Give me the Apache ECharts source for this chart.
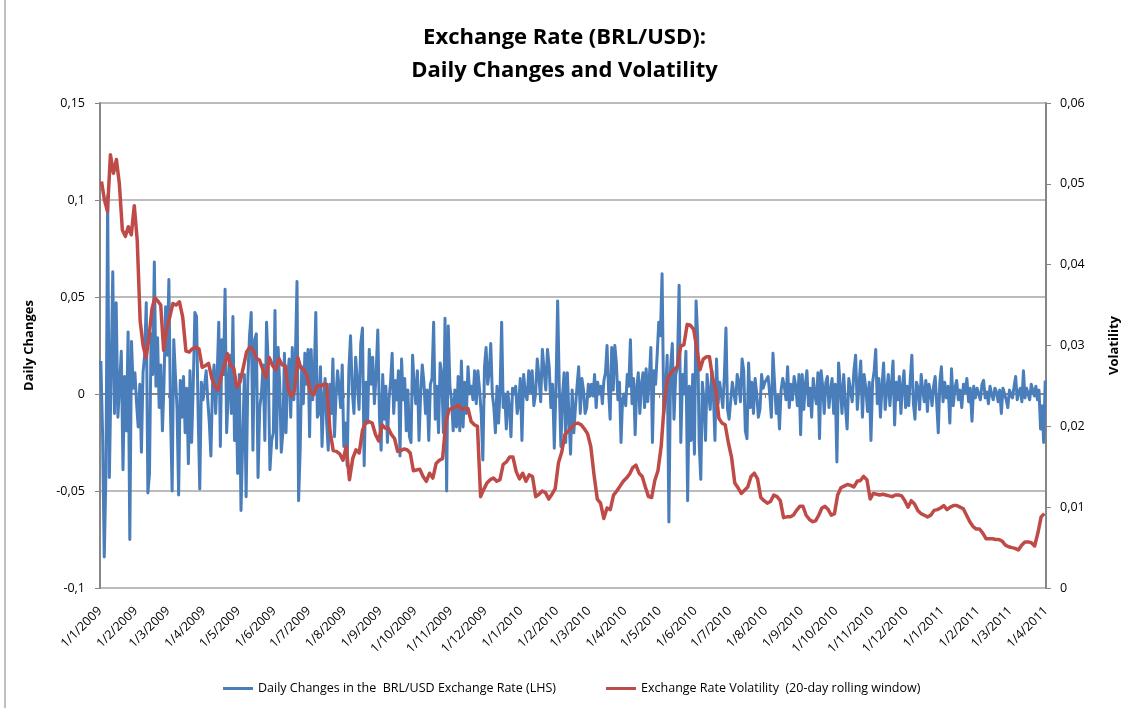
<!DOCTYPE html>
<html><head><meta charset="utf-8">
<script src="https://cdn.jsdelivr.net/npm/echarts@6/dist/echarts.min.js"></script>
<style>html,body{margin:0;padding:0;background:#fff}#c{width:1129px;height:708px}</style>
</head><body><div id="c"></div>
<script>
// Month-start tick labels (d/m/yyyy)
const tickLabels = ['1/1/2009','1/2/2009','1/3/2009','1/4/2009','1/5/2009','1/6/2009','1/7/2009','1/8/2009','1/9/2009','1/10/2009','1/11/2009','1/12/2009',
  '1/1/2010','1/2/2010','1/3/2010','1/4/2010','1/5/2010','1/6/2010','1/7/2010','1/8/2010','1/9/2010','1/10/2010','1/11/2010','1/12/2010',
  '1/1/2011','1/2/2011','1/3/2011','1/4/2011'];

// Daily changes in BRL/USD (LHS), one inner array per month
const dailyChanges2009 = [
  [0.017,-0.02,-0.084,-0.04,0.102,-0.043,0.01,0.063,-0.01,0.047,-0.012,0.005,0.022,-0.039,0.009,-0.019,0.032,-0.075,0.027,0.003,0.011],
  [-0.005,-0.017,0.005,-0.03,0.011,0.02,0.047,-0.051,-0.041,0.031,0.01,0.068,0.004,0.029,-0.007,0.015,-0.019,0.006,0.045,0.02],
  [0.059,-0.01,-0.05,0.028,0.01,-0.007,-0.052,0.007,-0.012,0.009,-0.02,0.003,-0.036,0.012,-0.025,0.005,0.042,0.04,-0.01,-0.049,0.006,-0.003],
  [-0.003,0.012,-0.003,-0.015,-0.032,0.004,0.015,-0.01,0.01,0.037,-0.027,0.028,0.01,0.054,-0.02,0.0,0.02,-0.01,0.04,-0.024,0.005,-0.041],
  [0.01,-0.06,-0.024,0.01,-0.053,0.007,0.03,0.042,-0.029,0.028,0.031,-0.043,-0.007,0.0,0.015,-0.024,0.037,0.015,-0.039,-0.024,-0.02],
  [0.043,-0.028,0.024,0.005,-0.03,-0.02,0.021,-0.02,0.008,0.018,-0.012,0.024,-0.003,0.02,0.058,-0.055,-0.029,0.014,-0.005,0.021,0.005,0.023],
  [-0.022,0.023,-0.003,0.01,0.042,-0.012,-0.01,0.014,-0.027,-0.003,0.008,-0.015,-0.029,0.005,-0.01,0.018,-0.022,-0.001,0.012,0.003,-0.007,0.015,-0.027],
  [-0.015,-0.037,0.012,0.03,0.002,-0.01,0.019,0.006,-0.008,0.026,0.034,-0.037,0.006,-0.015,0.023,0.005,0.019,-0.005,0.01,0.033,-0.012],
  [-0.029,0.01,-0.013,0.004,-0.025,-0.003,0.006,0.021,-0.01,0.007,-0.003,0.012,-0.032,0.018,-0.003,0.008,-0.019,0.002,-0.022,-0.025,0.02,0.005],
  [-0.005,0.012,-0.024,0.0,0.015,0.006,-0.01,0.002,-0.024,0.005,0.008,0.037,-0.013,0.004,-0.02,0.016,0.01,-0.02,0.039,-0.05,0.035,0.004],
  [-0.003,-0.019,0.002,-0.017,0.009,-0.019,0.017,-0.017,0.006,-0.01,0.014,0.0,0.004,-0.003,0.012,-0.005,0.012,0.002,-0.01,-0.034,0.014],
  [0.024,0.005,0.011,0.026,0.0,-0.007,-0.02,0.004,-0.015,0.002,0.037,-0.007,0.0,-0.018,0.001,-0.007,-0.022,0.003,0.0,0.004,-0.01,-0.005,0.008]
];
const dailyChanges2010 = [
  [-0.024,0.01,0.0,-0.003,0.012,0.001,0.012,-0.006,0.0,0.018,0.009,-0.004,0.023,0.012,0.002,0.023,0.014,-0.007,0.005,-0.028,0.004],
  [0.048,0.004,-0.027,-0.001,0.011,-0.025,0.011,-0.012,-0.031,0.002,-0.02,-0.007,0.004,0.014,-0.01,0.008,0.002,-0.01,-0.007,0.005],
  [-0.001,0.005,-0.001,0.01,-0.007,0.006,0.0,0.004,-0.005,0.007,0.011,0.025,0.002,-0.013,0.024,0.002,0.025,0.016,-0.003,0.006,-0.025,-0.003,0.0],
  [-0.006,0.01,0.004,0.028,-0.005,0.008,-0.021,0.003,0.011,-0.01,0.005,0.011,-0.007,0.013,-0.004,0.008,0.024,-0.025,0.012,0.005,0.02,0.037],
  [0.03,0.062,-0.01,0.0,0.02,-0.066,0.014,0.026,-0.013,0.01,0.014,0.056,-0.025,0.01,0.0,0.022,-0.055,0.004,-0.024,0.01,-0.031],
  [0.048,0.03,-0.026,-0.044,0.006,-0.003,-0.024,0.01,0.0,-0.008,0.012,0.0,-0.024,0.018,-0.005,0.006,0.0,-0.007,0.01,0.034,-0.008,-0.013],
  [-0.013,0.006,0.0,-0.005,0.01,0.006,-0.004,0.018,0.012,-0.019,-0.023,0.016,-0.007,0.006,-0.01,0.008,0.0,-0.012,-0.008,0.01,0.003,0.006],
  [0.006,0.009,0.0,-0.012,0.021,0.005,-0.01,-0.001,-0.018,0.002,0.008,0.004,-0.003,0.014,-0.007,0.005,-0.003,0.009,0.004,-0.006,0.01,-0.021],
  [0.01,-0.008,0.005,0.012,-0.006,0.003,-0.012,0.008,0.0,-0.005,0.011,-0.023,0.012,0.004,-0.01,0.006,0.009,-0.007,0.002,0.008,-0.01,0.005],
  [-0.035,0.016,0.004,-0.01,0.01,-0.006,-0.018,0.008,0.002,-0.004,0.012,0.02,-0.008,0.005,0.017,-0.012,0.01,0.003,-0.009,0.006,-0.024],
  [0.006,0.012,0.023,-0.005,0.008,-0.012,0.004,0.016,-0.008,0.002,0.01,-0.006,0.005,0.017,-0.016,0.006,-0.003,0.009,-0.01,0.004,0.012,-0.007],
  [0.004,-0.006,0.008,0.02,-0.005,-0.013,0.006,0.003,-0.008,0.01,0.002,-0.004,0.007,-0.009,0.005,0.001,-0.006,0.004,0.009,-0.005,-0.02,0.006,0.014]
];
const dailyChanges2011 = [
  [-0.004,0.006,-0.002,0.004,-0.015,0.013,-0.006,0.003,0.007,-0.003,0.002,-0.007,0.005,0.001,0.008,-0.004,0.003,-0.014,0.004,-0.002,0.003],
  [0.002,-0.003,0.005,0.007,-0.002,0.001,-0.005,0.004,0.0,-0.003,0.003,0.001,-0.004,0.002,-0.01,0.003,0.0,-0.003,-0.007,0.002],
  [0.002,-0.002,0.004,0.009,-0.003,0.001,0.003,-0.004,0.012,-0.002,0.003,0.0,-0.003,0.005,0.002,-0.001,0.004,-0.003,0.002,-0.018,-0.006,-0.025,0.007]
];

// Exchange rate volatility, 20-day rolling window (RHS), one inner array per month
const volatility2009 = [
  [0.0503,0.048,0.0466,0.0536,0.0513,0.053,0.05,0.0443,0.0435,0.0447,0.0437,0.0473],
  [0.043,0.033,0.030,0.0285,0.031,0.0345,0.0359,0.0355,0.035,0.0294,0.032],
  [0.0335,0.0352,0.035,0.0354,0.0335,0.0293,0.0292,0.0296,0.0298,0.0296,0.0273],
  [0.0275,0.0278,0.026,0.0249,0.0245,0.0262,0.0275,0.029,0.0275,0.0272,0.0248],
  [0.0255,0.0273,0.0292,0.0298,0.0295,0.0284,0.0282,0.027,0.026,0.0285,0.0275],
  [0.027,0.0284,0.0276,0.0275,0.0245,0.0237,0.0245,0.0285,0.0272,0.027,0.0262],
  [0.0242,0.0239,0.0251,0.0249,0.0252,0.0252,0.0195,0.017,0.0169,0.0166,0.0158],
  [0.0175,0.0134,0.016,0.0171,0.0167,0.0195,0.0205,0.0206,0.0204,0.019,0.0182],
  [0.0202,0.0198,0.0198,0.019,0.0185,0.0169,0.017,0.0172,0.0171,0.0167,0.0145],
  [0.0146,0.0147,0.0138,0.0132,0.0142,0.0136,0.0154,0.0158,0.016,0.0205,0.0221],
  [0.0222,0.0224,0.0226,0.0221,0.0222,0.0222,0.0206,0.0202,0.02,0.0113,0.0122],
  [0.013,0.0134,0.0136,0.0132,0.0134,0.0153,0.0156,0.0162,0.0162,0.0144,0.0135]
];
const volatility2010 = [
  [0.0142,0.0132,0.014,0.0138,0.0113,0.0116,0.012,0.0118,0.011,0.0116,0.0123],
  [0.0155,0.0168,0.019,0.0194,0.0198,0.0203,0.0204,0.0202,0.0197,0.0191],
  [0.0175,0.014,0.011,0.0105,0.0086,0.0099,0.0097,0.0115,0.012,0.0126,0.0132],
  [0.0136,0.0141,0.0149,0.0152,0.0142,0.0138,0.0125,0.0113,0.0112,0.0133,0.0145],
  [0.0175,0.023,0.026,0.0266,0.027,0.0274,0.0299,0.0301,0.0326,0.0325,0.032],
  [0.0296,0.027,0.0283,0.0286,0.0286,0.026,0.0246,0.021,0.0204,0.0202,0.018],
  [0.0162,0.013,0.0124,0.0117,0.0121,0.0125,0.0138,0.0142,0.0135,0.0112,0.0108],
  [0.0105,0.0107,0.0115,0.0113,0.0108,0.0087,0.0088,0.0088,0.009,0.0096,0.0101],
  [0.0101,0.009,0.0085,0.0082,0.0083,0.009,0.0099,0.0101,0.0097,0.009,0.0092],
  [0.0115,0.0124,0.0126,0.0128,0.0127,0.0125,0.0132,0.0133,0.0138,0.0134,0.011],
  [0.0117,0.0116,0.0115,0.0116,0.0115,0.0114,0.0113,0.0115,0.0115,0.0114,0.0108],
  [0.01,0.0108,0.0104,0.0096,0.0092,0.009,0.0088,0.009,0.0096,0.0097,0.0099]
];
const volatility2011 = [
  [0.0102,0.0097,0.01,0.0102,0.0102,0.01,0.0098,0.009,0.0082,0.0076,0.0073],
  [0.0073,0.0068,0.0061,0.0061,0.0061,0.006,0.006,0.0058,0.0053,0.0051],
  [0.005,0.0049,0.0047,0.0053,0.0057,0.0057,0.0056,0.0052,0.0068,0.0088,0.0092]
];

const seriesNames = ['Daily Changes in the  BRL/USD Exchange Rate (LHS)', 'Exchange Rate Volatility  (20-day rolling window)'];

// spread each month's observations across that month's calendar span
function toTimeSeries(byYear) {
  const out = [];
  byYear.forEach(([year, months]) => {
    months.forEach((vals, m) => {
      const s = new Date(year, m, 1).getTime();
      const e = new Date(year, m + 1, 1).getTime();
      vals.forEach((v, j) => out.push([s + (j + 0.5) / vals.length * (e - s), v]));
    });
  });
  return out;
}
const blueData = toTimeSeries([[2009, dailyChanges2009], [2010, dailyChanges2010], [2011, dailyChanges2011]]);
const redData = toTimeSeries([[2009, volatility2009], [2010, volatility2010], [2011, volatility2011]]);

const xMin = new Date(2009, 0, 1).getTime();
const xMax = new Date(2011, 3, 1).getTime();
const FONT = 'Open Sans';
const comma = v => String(+(+v).toFixed(3)).replace('.', ',');
function fmtDate(val) {
  const d = new Date(val);
  return d.getDate() + '/' + (d.getMonth() + 1) + '/' + d.getFullYear();
}

const chart = echarts.init(document.getElementById('c'), null, {renderer: 'canvas'});
chart.setOption({
  animation: false,
  backgroundColor: '#fff',
  title: {
    text: 'Exchange Rate (BRL/USD):\nDaily Changes and Volatility',
    left: 'center', top: 16,
    textStyle: {fontFamily: FONT, fontSize: 22, fontWeight: 'bold', color: '#000', lineHeight: 33}
  },
  legend: {
    bottom: 8, left: 218, icon: 'rect', itemWidth: 30, itemHeight: 3, itemGap: 50,
    textStyle: {fontFamily: FONT, fontSize: 12.5, color: '#000'},
    data: seriesNames
  },
  graphic: [
    {type: 'line', shape: {x1: 5, y1: 0, x2: 5, y2: 708}, style: {stroke: '#c0c0c0', lineWidth: 2}, silent: true}
  ],
  grid: {left: 100, right: 82, top: 103, bottom: 120},
  xAxis: [
    {
      type: 'time', min: xMin, max: xMax, splitNumber: 27,
      minInterval: 28 * 86400000, maxInterval: 31 * 86400000,
      axisLine: {show: true, onZero: true, onZeroAxisIndex: 0, lineStyle: {color: '#868686', width: 2}},
      axisTick: {show: true, length: 4, lineStyle: {color: '#868686'}},
      axisLabel: {show: false},
      splitLine: {show: false}
    },
    {
      type: 'time', min: xMin, max: xMax, splitNumber: 27, position: 'bottom',
      minInterval: 28 * 86400000, maxInterval: 31 * 86400000,
      axisLine: {show: false, onZero: false},
      axisTick: {show: false},
      axisLabel: {show: true, rotate: 45, margin: 21, color: '#000', fontFamily: FONT, fontSize: 12.5,
        formatter: v => fmtDate(v), hideOverlap: false, showMinLabel: true, showMaxLabel: true},
      splitLine: {show: false}
    }
  ],
  yAxis: [
    {
      type: 'value', min: -0.1, max: 0.15, interval: 0.05, position: 'left',
      name: 'Daily Changes', nameLocation: 'middle', nameRotate: 90, nameGap: 64,
      nameTextStyle: {fontFamily: FONT, fontSize: 13, fontWeight: 'bold', color: '#000'},
      axisLine: {show: true, lineStyle: {color: '#868686', width: 2}},
      axisTick: {show: true, length: 5, lineStyle: {color: '#868686'}},
      axisLabel: {formatter: comma, color: '#000', fontFamily: FONT, fontSize: 12.5, margin: 15},
      splitLine: {show: true, lineStyle: {color: '#a6a6a6', width: 1.5}}
    },
    {
      type: 'value', min: 0, max: 0.06, interval: 0.01, position: 'right',
      name: 'Volatility', nameLocation: 'middle', nameRotate: 90, nameGap: 62,
      nameTextStyle: {fontFamily: FONT, fontSize: 13, fontWeight: 'bold', color: '#000'},
      axisLine: {show: true, lineStyle: {color: '#868686', width: 2}},
      axisTick: {show: true, length: 5, lineStyle: {color: '#868686'}},
      axisLabel: {formatter: comma, color: '#000', fontFamily: FONT, fontSize: 12.5, margin: 14},
      splitLine: {show: false}
    }
  ],
  series: [
    {
      name: seriesNames[0], type: 'line', xAxisIndex: 0, yAxisIndex: 0, data: blueData,
      showSymbol: false, symbol: 'none', color: '#4a7ebb',
      lineStyle: {color: '#4a7ebb', width: 3, join: 'round'}, z: 2
    },
    {
      name: seriesNames[1], type: 'line', xAxisIndex: 0, yAxisIndex: 1, data: redData,
      showSymbol: false, symbol: 'none', color: '#be4b48',
      lineStyle: {color: '#be4b48', width: 3.5, join: 'round'}, z: 3
    }
  ]
});
</script>
</body></html>
